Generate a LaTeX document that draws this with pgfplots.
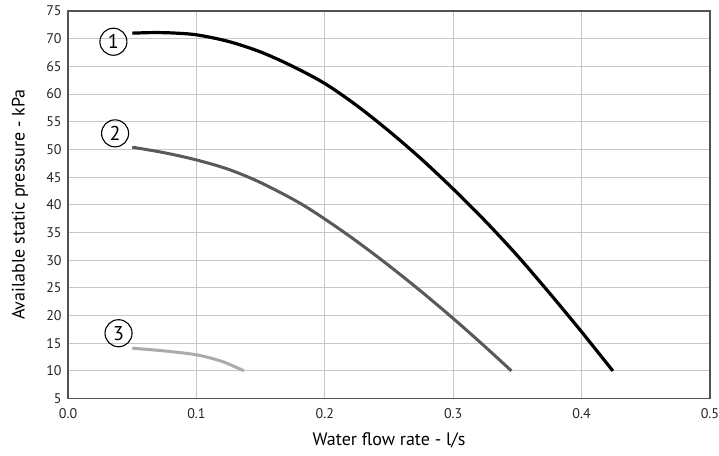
\documentclass[border=0pt]{standalone}
\usepackage{pgfplots}
\pgfplotsset{compat=1.18}
\usepackage{fontspec}
\setmainfont{PT Sans}
\begin{document}
\begin{tikzpicture}
\begin{axis}[
  scale only axis,
  width=641pt, height=387pt,
  xmin=0, xmax=0.5, ymin=5, ymax=75,
  xtick={0,0.1,0.2,0.3,0.4,0.5},
  ytick={5,10,...,75},
  xmajorgrids=true, ymajorgrids=true,
  major grid style={draw=black!22, line width=0.8pt},
  tick style={draw=none},
  axis line style={draw=black!68, line width=1.4pt},
  /pgf/number format/assume math mode=true,
  xticklabel={\pgfmathprintnumber[fixed,fixed zerofill,precision=1]{\tick}},
  yticklabel={\pgfmathprintnumber[fixed,precision=0]{\tick}},
  tick label style={font=\fontsize{14}{16}\selectfont, text=black!85},
  xticklabel style={yshift=-6pt},
  yticklabel style={xshift=-3pt},
  xlabel={Water flow rate - l/s},
  ylabel={Available static pressure - kPa},
  label style={font=\fontsize{18}{20}\selectfont},
  xlabel style={at={(axis description cs:0.5,-0.109)}, anchor=center},
  ylabel style={at={(axis description cs:-0.075,0.5)}, anchor=center},
  clip=false,
]
\addplot[black, line width=3.2pt, smooth] coordinates {
(0.05,71.0)(0.065,71.1)(0.08,71.05)(0.1,70.7)(0.125,69.5)(0.15,67.6)(0.175,65.0)(0.2,61.9)(0.225,57.9)(0.25,53.3)(0.275,48.3)(0.3,42.85)(0.325,37.05)(0.35,30.8)(0.375,24.05)(0.4,17.05)(0.4243,10)
};
\addplot[black!65, line width=3pt, smooth] coordinates {
(0.05,50.4)(0.075,49.4)(0.1,48.1)(0.125,46.4)(0.15,44.0)(0.1827,40)(0.2152,35)(0.2444,30)(0.2716,25)(0.2973,20)(0.3218,15)(0.3453,10)
};
\addplot[black!33, line width=3pt, smooth] coordinates {
(0.05,14.1)(0.075,13.6)(0.1,12.9)(0.12,11.7)(0.137,10)
};
\draw[black!68, line width=1.4pt] (rel axis cs:0,0) rectangle (rel axis cs:1,1);
\node[circle, draw=black, line width=1.1pt, minimum size=27pt, inner sep=0pt, font=\fontsize{20}{20}\selectfont] at (axis cs:0.0353,69.45) {1};
\node[circle, draw=black, line width=1.1pt, minimum size=27pt, inner sep=0pt, font=\fontsize{20}{20}\selectfont] at (axis cs:0.0366,52.9) {2};
\node[circle, draw=black, line width=1.1pt, minimum size=27pt, inner sep=0pt, font=\fontsize{20}{20}\selectfont] at (axis cs:0.0393,16.8) {3};
\end{axis}
\pgfresetboundingbox
\path[use as bounding box] ([shift={(-68pt,-57pt)}]current axis.south west) rectangle ([shift={(9pt,11pt)}]current axis.north east);
\end{tikzpicture}
\end{document}
